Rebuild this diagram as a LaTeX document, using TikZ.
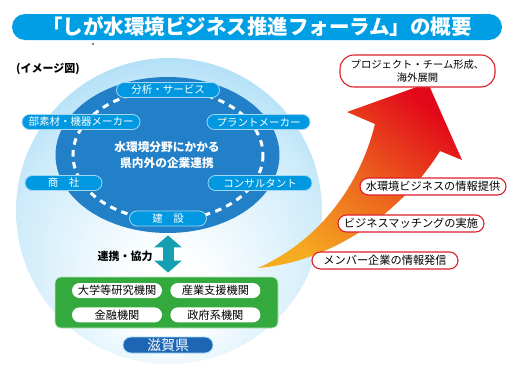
\documentclass[tikz,border=0pt]{standalone}
\usepackage{fontspec}
\setmainfont{Noto Sans CJK JP}
\usepackage{tikz}
\usetikzlibrary{arrows.meta, positioning, calc}
\definecolor{titleblue}{RGB}{0,158,228}
\definecolor{skyedge}{RGB}{92,183,234}
\definecolor{skyouter}{RGB}{128,203,241}
\definecolor{skymid}{RGB}{205,235,250}
\definecolor{darkblue}{RGB}{34,128,200}
\definecolor{pillblue}{RGB}{0,152,224}
\definecolor{pillline}{RGB}{160,215,245}
\definecolor{prefblue}{RGB}{28,102,180}
\definecolor{boxgreen}{RGB}{52,170,62}
\definecolor{boxline}{RGB}{190,230,190}
\definecolor{linkteal}{RGB}{20,160,178}
\definecolor{ribred}{RGB}{222,30,42}
\definecolor{arrowtail}{RGB}{246,172,32}
\definecolor{arrowmid}{RGB}{236,100,30}
\definecolor{arrowhead}{RGB}{226,8,26}
\pgfdeclareradialshading{spherefill}{\pgfpoint{0bp}{-16bp}}{color(0bp)=(white); color(6bp)=(white); color(26bp)=(skymid); color(41bp)=(skyouter); color(50bp)=(skyedge)}
\tikzset{
  titlebar/.style={rectangle, fill=titleblue, rounded corners=13pt,
    minimum width=490pt, minimum height=26pt, inner sep=0pt,
    text=white, font=\bfseries\fontsize{20.5}{24}\selectfont},
  bluepill/.style={rectangle, draw=pillline, fill=pillblue,
    rounded corners=7.5pt, minimum height=15pt, inner sep=0pt,
    line width=0.8pt, text=white, font=\fontsize{10.5}{12}\selectfont},
  whitepill/.style={rectangle, fill=white, rounded corners=7.5pt,
    minimum width=90pt, minimum height=15pt, inner sep=0pt,
    font=\fontsize{11.2}{13}\selectfont},
  redpill/.style={rectangle, draw=ribred, fill=white,
    rounded corners=8.5pt, minimum width=146pt, minimum height=17pt,
    inner sep=0pt, line width=1.1pt, font=\fontsize{11.2}{13}\selectfont},
  linkarrow/.style={line width=11pt, color=linkteal,
    arrows={Triangle[width=27pt,length=12pt]-Triangle[width=27pt,length=12pt]}},
  boldlabel/.style={font=\bfseries\fontsize{11}{13}\selectfont}
}
\begin{document}
\begin{tikzpicture}[x=1pt,y=-1pt]
  \useasboundingbox (0,0) rectangle (512,378);
  % Title
  \node[titlebar] (title) at (257,27) {「しが水環境ビジネス推進フォーラム」の概要};
  \fill (93,44) circle [radius=0.8];
  \node[boldlabel] (imgcap) at (48,69) {(イメージ図)};

  % Sphere and the ring of companies
  \shade[shading=spherefill] (169,211) circle [radius=153];
  \fill[darkblue] (167.5,155) ellipse [x radius=112, y radius=78];
  \draw[white, line width=3pt, dash pattern=on 6.5pt off 5.5pt] (168,155) ellipse [x radius=95, y radius=65];

  \node[bluepill, minimum width=103pt] (bunseki) at (168,90) {分析・サービス};
  \node[bluepill, minimum width=118pt] (buzai) at (81,122) {部素材・機器メーカー};
  \node[bluepill, minimum width=103pt] (plant) at (258.5,122) {プラントメーカー};
  \node[bluepill, minimum width=77pt] (shosha) at (63.5,183) {商　社};
  \node[bluepill, minimum width=104pt] (consul) at (260,183) {コンサルタント};
  \node[bluepill, minimum width=77pt] (kensetsu) at (168,218.5) {建　設};
  \node[text=white, align=center, font=\bfseries\fontsize{11.7}{16}\selectfont] (renkei) at (167,155) {水環境分野にかかる\\県内外の企業連携};

  % Partners in Shiga
  \node[rectangle, fill=boxgreen, draw=boxline, line width=0.8pt, rounded corners=6pt, minimum width=223pt, minimum height=51pt] (greenbox) at (166.5,302.5) {};
  \node[whitepill] (daigaku) at (117,290.5) {大学等研究機関};
  \node[whitepill, right=8pt of daigaku] (sangyo) {産業支援機関};
  \node[whitepill, below=9pt of daigaku] (kinyu) {金融機関};
  \node[whitepill, right=8pt of kinyu] (seifu) {政府系機関};
  \draw[linkarrow, shorten <=9pt, shorten >=4pt] (kensetsu.south) -- (kensetsu.south |- greenbox.north);
  \node[boldlabel] (kyoryoku) at (125,256.5) {連携・協力};
  \node[rectangle, draw=pillline, fill=prefblue, rounded corners=8pt, minimum width=90pt, minimum height=16pt, inner sep=0pt, line width=0.8pt, text=white, font=\fontsize{14}{16}\selectfont] (shiga) at (168,345) {滋賀県};

  % Rising arrow
  \shade[top color=arrowhead, bottom color=arrowtail, middle color=arrowmid, shading angle=-40]
    (258,268) .. controls (330,262) and (400,215) .. (440,151)
    -- (462,160) -- (428,83) -- (347,112) -- (375,124)
    .. controls (360,185) and (320,240) .. (258,268) -- cycle;

  \node[redpill, rounded corners=14pt, minimum width=155pt, minimum height=32pt, align=center, font=\fontsize{10.3}{13}\selectfont] (project) at (417.5,71) {プロジェクト・チーム形成、\\海外展開};
  \node[redpill] (teikyo) at (433,186.5) {水環境ビジネスの情報提供};
  \node[redpill] (matching) at (411,223.5) {ビジネスマッチングの実施};
  \node[redpill] (hasshin) at (385,260.5) {メンバー企業の情報発信};
\end{tikzpicture}
\end{document}
